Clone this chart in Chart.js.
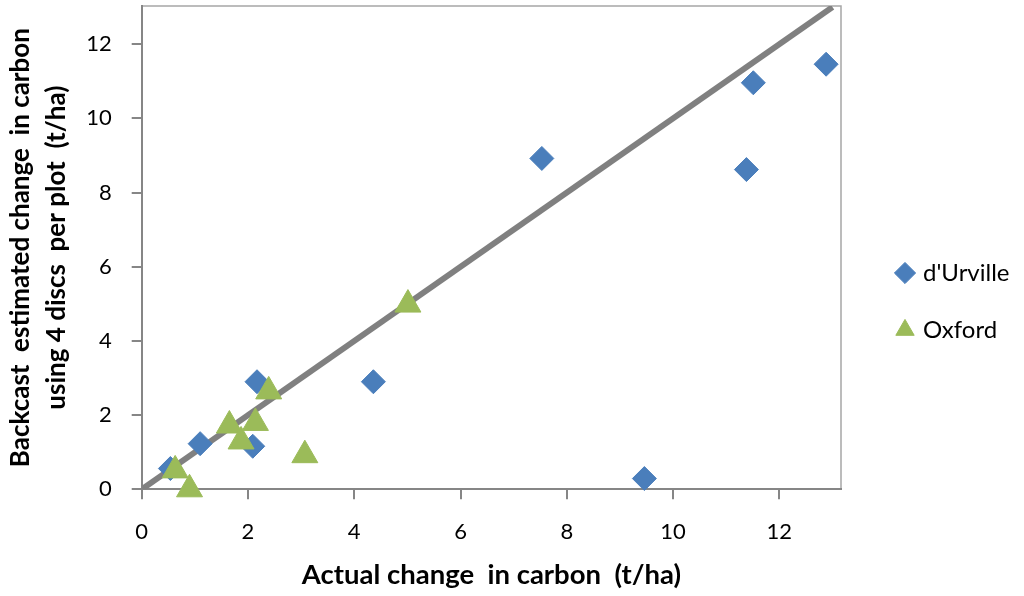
<!DOCTYPE html>
<html>
<head>
<meta charset="utf-8">
<script src="https://cdn.jsdelivr.net/npm/chart.js@4.4.1/dist/chart.umd.min.js"></script>
<style>
  html, body { margin: 0; padding: 0; background: #fff; }
  #wrap { width: 1024px; height: 596px; position: relative; }
</style>
</head>
<body>
<div id="wrap"><canvas id="chart"></canvas></div>
<script>
// values
const seriesNames = ["d'Urville", 'Oxford']
const dUrvilleX = [0.54, 1.10, 2.09, 2.17, 4.36, 7.53, 9.46, 11.38, 11.51, 12.88]
const dUrvilleY = [0.56, 1.23, 1.16, 2.90, 2.90, 8.92, 0.29, 8.62, 10.96, 11.46]
const oxfordX = [0.63, 0.90, 1.65, 1.87, 2.14, 2.39, 3.07, 5.01]
const oxfordY = [0.51, 0.00, 1.72, 1.29, 1.79, 2.64, 0.92, 4.98]
const oneToOneX = [0, 13]
const oneToOneY = [0, 13]
const xTicks = [0, 2, 4, 6, 8, 10, 12]
const yTicks = [0, 2, 4, 6, 8, 10, 12]
const xTitle = 'Actual change  in carbon  (t/ha)'
const yTitle = ['Backcast  estimated change  in carbon', 'using 4 discs  per plot  (t/ha)']

const FONT = 'Lato'
const AXIS_GREY = '#868686'

function toPoints(xs, ys) {
  return xs.map((x, i) => ({ x: x, y: ys[i] }))
}

// top + right edge of the plot area (left/bottom come from the axes)
const frame = {
  id: 'frame',
  beforeDraw(chart) {
    const { ctx, chartArea: a } = chart
    ctx.save()
    ctx.strokeStyle = '#a6a6a6'
    ctx.lineWidth = 1.5
    ctx.beginPath()
    ctx.moveTo(a.left, a.top)
    ctx.lineTo(a.right, a.top)
    ctx.lineTo(a.right, a.bottom)
    ctx.stroke()
    ctx.restore()
  }
}

// legend sits in a fixed strip on the right, items placed like the original
const legendSpot = {
  id: 'legendSpot',
  beforeLayout(chart) {
    const lg = chart.legend
    if (lg && !lg._fixed) {
      const fit = lg.fit
      lg.fit = function () { fit.call(this); this.width = 183 }
      lg._fixed = true
    }
  },
  afterLayout(chart) {
    const lg = chart.legend
    const pad = lg.options.labels.padding
    const half = lg.options.labels.font.size / 2
    lg.left = 899 - pad
    lg.right = 1024
    lg.top = 273 - half - pad
    lg.bottom = 596
  }
}

const ctx = document.getElementById('chart').getContext('2d')

const myChart = new Chart(ctx, {
  type: 'scatter',
  data: {
    datasets: [{
      label: seriesNames[0],
      data: toPoints(dUrvilleX, dUrvilleY),
      pointStyle: 'rectRot',
      pointRadius: 12,
      pointHoverRadius: 12,
      backgroundColor: '#4a7ebb',
      borderColor: '#4a7ebb',
      borderWidth: 1,
      clip: false,
      order: 1
    }, {
      label: seriesNames[1],
      data: toPoints(oxfordX, oxfordY),
      pointStyle: 'triangle',
      pointRadius: 15,
      pointHoverRadius: 15,
      backgroundColor: '#9bbb59',
      borderColor: '#9bbb59',
      borderWidth: 1,
      clip: false,
      order: 0
    }, {
      type: 'line',
      label: '1:1',
      data: toPoints(oneToOneX, oneToOneY),
      borderColor: '#808080',
      borderWidth: 6,
      pointRadius: 0,
      fill: false,
      order: 2
    }]
  },
  options: {
    responsive: true,
    maintainAspectRatio: false,
    animation: false,
    devicePixelRatio: 1,
    layout: { autoPadding: false, padding: { top: 6, right: 0, bottom: 0, left: 0 } },
    plugins: {
      tooltip: { enabled: false },
      legend: {
        position: 'right',
        align: 'start',
        labels: {
          usePointStyle: true,
          boxWidth: 12,
          boxHeight: 15,
          padding: 33,
          color: '#000',
          font: { family: FONT, size: 24 },
          filter: (item) => item.datasetIndex < 2,
          sort: (a, b) => a.datasetIndex - b.datasetIndex
        }
      }
    },
    scales: {
      x: {
        type: 'linear',
        min: 0,
        max: 13.16,
        afterBuildTicks: (axis) => { axis.ticks = xTicks.map(v => ({ value: v })) },
        afterFit: (axis) => { axis.height = 106.7; axis.paddingLeft = 0; axis.paddingRight = 0 },
        border: { display: true, color: AXIS_GREY, width: 2 },
        grid: { display: true, drawOnChartArea: false, drawTicks: true, tickLength: 10, color: AXIS_GREY, lineWidth: 2 },
        ticks: { color: '#000', padding: 19, font: { family: FONT, size: 22 } },
        title: {
          display: true,
          text: xTitle,
          color: '#000',
          font: { family: FONT, size: 27.5, weight: 'bold' },
          padding: { top: 0, bottom: 4.5 }
        }
      },
      y: {
        type: 'linear',
        min: 0,
        max: 13.03,
        afterBuildTicks: (axis) => { axis.ticks = yTicks.map(v => ({ value: v })) },
        afterFit: (axis) => { axis.width = 141.7; axis.paddingTop = 0; axis.paddingBottom = 0 },
        border: { display: true, color: AXIS_GREY, width: 2 },
        grid: { display: true, drawOnChartArea: false, drawTicks: true, tickLength: 10, color: AXIS_GREY, lineWidth: 2 },
        ticks: { color: '#000', padding: 20, font: { family: FONT, size: 22 } },
        title: {
          display: true,
          text: yTitle,
          color: '#000',
          font: { family: FONT, size: 26, weight: 'bold', lineHeight: 1.385 },
          padding: { top: 3, bottom: 0 }
        }
      }
    }
  },
  plugins: [frame, legendSpot]
})
</script>
</body>
</html>
